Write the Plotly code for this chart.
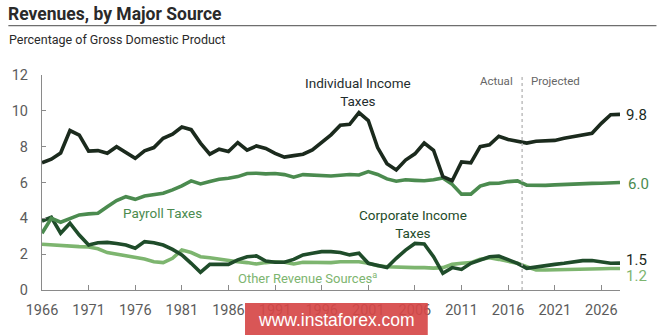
import plotly.graph_objects as go

# Federal revenues by major source, percentage of GDP, 1966-2028
years = list(range(1966, 2029))

individual_income = [
    7.1, 7.3, 7.65, 8.9, 8.65, 7.75, 7.78, 7.63, 8.0, 7.67,
    7.35, 7.77, 7.95, 8.47, 8.7, 9.1, 8.95, 8.2, 7.58, 7.86,
    7.73, 8.23, 7.8, 8.04, 7.9, 7.63, 7.42, 7.5, 7.58, 7.82,
    8.23, 8.66, 9.2, 9.25, 9.9, 9.46, 7.95, 7.05, 6.7, 7.25,
    7.6, 8.2, 7.8, 6.33, 6.1, 7.15, 7.1, 8.0, 8.1, 8.58,
    8.4, 8.3, 8.2, 8.3, 8.35, 8.35, 8.47, 8.56, 8.66, 8.75,
    9.3, 9.78, 9.8,
]
payroll = [
    3.17, 4.0, 3.78, 4.0, 4.19, 4.25, 4.28, 4.65, 4.99, 5.21,
    5.06, 5.25, 5.3, 5.4, 5.59, 5.81, 6.09, 5.92, 6.05, 6.18,
    6.24, 6.33, 6.5, 6.52, 6.48, 6.5, 6.44, 6.3, 6.44, 6.42,
    6.38, 6.36, 6.4, 6.45, 6.42, 6.61, 6.45, 6.2, 6.07, 6.15,
    6.12, 6.1, 6.15, 6.25, 5.9, 5.35, 5.35, 5.8, 5.95, 5.96,
    6.05, 6.09, 5.85, 5.83, 5.84, 5.87, 5.9, 5.92, 5.94, 5.95,
    5.96, 5.97, 6.0,
]
corporate_income = [
    3.85, 4.06, 3.17, 3.73, 3.07, 2.51, 2.64, 2.66, 2.6, 2.51,
    2.33, 2.7, 2.64, 2.51, 2.27, 1.96, 1.49, 0.99, 1.43, 1.43,
    1.43, 1.68, 1.86, 1.9, 1.62, 1.55, 1.55, 1.71, 1.96, 2.05,
    2.14, 2.14, 2.09, 1.96, 2.05, 1.49, 1.35, 1.25, 1.77, 2.23,
    2.6, 2.57, 1.86, 0.93, 1.25, 1.15, 1.49, 1.68, 1.86, 1.9,
    1.71, 1.49, 1.21, 1.3, 1.36, 1.43, 1.49, 1.58, 1.64, 1.65,
    1.58, 1.49, 1.5,
]
other_sources = [
    2.55, 2.51, 2.46, 2.47, 2.42, 2.4, 2.3, 2.09, 2.01, 1.94,
    1.86, 1.73, 1.58, 1.53, 1.77, 2.23, 2.09, 1.86, 1.8, 1.71,
    1.62, 1.58, 1.53, 1.45, 1.53, 1.58, 1.55, 1.45, 1.55, 1.55,
    1.53, 1.53, 1.58, 1.6, 1.58, 1.49, 1.36, 1.3, 1.27, 1.25,
    1.25, 1.25, 1.22, 1.25, 1.43, 1.49, 1.53, 1.71, 1.8, 1.71,
    1.62, 1.49, 1.3, 1.12, 1.12, 1.14, 1.15, 1.16, 1.17, 1.18,
    1.19, 1.2, 1.2,
]

x_ticks = list(range(1966, 2027, 5))
y_ticks = [0, 2, 4, 6, 8, 10, 12]
projection_start = 2017.5

C_IND = "#1b2a1d"
C_CORP = "#1f4c2a"
C_PAY = "#4b8b4f"
C_OTH = "#7db56f"
C_TXT = "#1f2d2e"
C_AXIS = "#8a8a8a"
C_TICK = "#5b5b5b"

FONT = "Roboto, Arial, sans-serif"

# plot-area geometry in pixels
W_FIG, H_FIG = 665, 335
L, T = 41.7, 75.0
R, B = 620.5, 290.0
PW, PH = R - L, B - T


def px(x):
    return (x - L) / PW


def py(y):
    return (B - y) / PH


fig = go.Figure()
for vals, color in [
    (other_sources, C_OTH),
    (corporate_income, C_CORP),
    (payroll, C_PAY),
    (individual_income, C_IND),
]:
    fig.add_trace(go.Scatter(
        x=years, y=vals, mode="lines",
        line=dict(color=color, width=3.6, shape="linear"),
        hoverinfo="skip", showlegend=False,
    ))

shapes = [
    # actual / projected divider
    dict(type="line", xref="x", yref="y", x0=projection_start, x1=projection_start,
         y0=0, y1=12, line=dict(color="#b5b5b5", width=1.3, dash="dot")),
    # rule under title
    dict(type="line", xref="paper", yref="paper", x0=px(8), x1=px(657),
         y0=py(25.7), y1=py(25.7), line=dict(color="#6e6e6e", width=1.2)),
    # watermark box
    dict(type="rect", xref="paper", yref="paper", x0=px(245), x1=px(428),
         y0=py(335), y1=py(303), fillcolor="rgba(214,72,72,0.92)", line_width=0,
         layer="above"),
]

annotations = [
    dict(text="<b>Revenues, by Major Source</b>", x=px(6), y=py(14.5),
         font=dict(size=17.5, color="#2a2a2a", family=FONT)),
    dict(text="Percentage of Gross Domestic Product", x=px(7), y=py(40),
         font=dict(size=12.5, color="#2a2a2a", family=FONT)),
    dict(text="Individual Income<br>Taxes", x=px(358), y=py(92), xanchor="center",
         font=dict(size=13.5, color=C_TXT, family=FONT)),
    dict(text="Payroll Taxes", x=px(121), y=py(212.5),
         font=dict(size=13.5, color=C_PAY, family=FONT)),
    dict(text="Corporate Income<br>Taxes", x=px(413), y=py(223.5), xanchor="center",
         font=dict(size=13.5, color=C_CORP, family=FONT)),
    dict(text="Other Revenue Sources<sup>a</sup>", x=px(236), y=py(277.5),
         font=dict(size=13, color=C_OTH, family=FONT)),
    dict(text="Actual", x=px(515), y=py(80.5), xanchor="right",
         font=dict(size=11.5, color="#666666", family=FONT)),
    dict(text="Projected", x=px(529), y=py(80.5),
         font=dict(size=11.5, color="#666666", family=FONT)),
    dict(text="9.8", x=px(625), y=py(115), font=dict(size=15, color=C_IND, family=FONT)),
    dict(text="6.0", x=px(627), y=py(184), font=dict(size=15, color=C_PAY, family=FONT)),
    dict(text="1.5", x=px(625), y=py(259.5), font=dict(size=15, color=C_IND, family=FONT)),
    dict(text="1.2", x=px(625), y=py(276), font=dict(size=15, color=C_OTH, family=FONT)),
    dict(text="www.instaforex.com", x=px(336.5), y=py(320), xanchor="center",
         font=dict(size=17.5, color="white", family="Arial, Liberation Sans, sans-serif")),
]
for a in annotations:
    a.setdefault("xanchor", "left")
    a.update(xref="paper", yref="paper", yanchor="middle", showarrow=False)

fig.update_layout(
    width=W_FIG, height=H_FIG,
    margin=dict(l=L, r=W_FIG - R, t=T, b=H_FIG - B, pad=0),
    paper_bgcolor="white", plot_bgcolor="white",
    font=dict(family=FONT, color=C_TICK),
    shapes=shapes, annotations=annotations,
    xaxis=dict(
        range=[1966, 2028], tickvals=x_ticks, ticktext=[str(v) for v in x_ticks],
        showgrid=False, zeroline=False, showline=True, linecolor=C_AXIS, linewidth=1.3,
        ticks="inside", ticklen=5, tickcolor=C_AXIS, tickwidth=1,
        tickfont=dict(size=14.5, color=C_TICK, family=FONT),
        ticklabelstandoff=6,
    ),
    yaxis=dict(
        range=[0, 12], tickvals=y_ticks, showgrid=False, zeroline=False,
        showline=True, linecolor=C_AXIS, linewidth=1.3,
        ticks="inside", ticklen=4, tickcolor=C_AXIS, tickwidth=1,
        tickfont=dict(size=14.5, color=C_TICK, family=FONT),
        ticklabelstandoff=10,
    ),
)

fig.write_html("out.html")
